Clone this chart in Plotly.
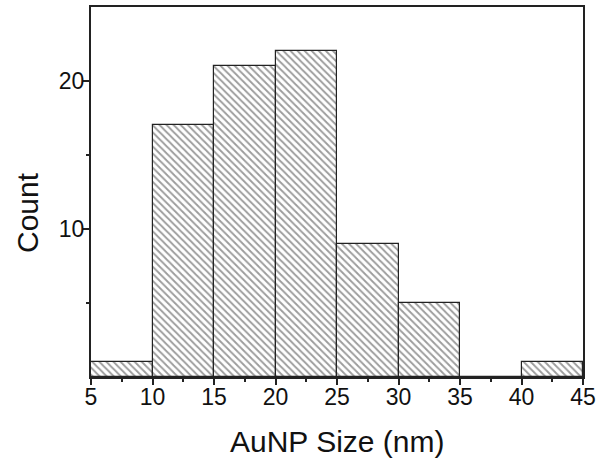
import plotly.graph_objects as go

bin_starts = [5, 10, 15, 20, 25, 30, 35, 40]
bin_width = 5
counts = [1, 17, 21, 22, 9, 5, 0, 1]
x_ticks = [5, 10, 15, 20, 25, 30, 35, 40, 45]
x_minor = [7.5, 12.5, 17.5, 22.5, 27.5, 32.5, 37.5, 42.5]
y_ticks = [10, 20]
y_minor = [5, 15]
x_title = "AuNP Size (nm)"
y_title = "Count"

fig = go.Figure()
fig.add_trace(go.Bar(
    x=bin_starts, y=counts, width=bin_width, offset=0,
    marker=dict(color="white",
                line=dict(color="#222", width=1.2),
                pattern=dict(shape="\\", fgcolor="#3a3a3a", bgcolor="white",
                             size=5, solidity=0.38)),
))

font = "Liberation Sans, Arial, sans-serif"
L, R, T, B = 91, 23, 7, 85
W, H = 606, 462
pw, ph = W - L - R, H - T - B
fig.update_layout(
    width=W, height=H,
    margin=dict(l=L, r=R, t=T, b=B),
    paper_bgcolor="white", plot_bgcolor="white",
    showlegend=False, bargap=0,
    font=dict(family=font, color="#111"),
)
fig.update_xaxes(
    range=[5, 45], tickvals=x_ticks, ticks="outside", ticklen=6, tickwidth=1.5,
    tickcolor="#222", tickfont=dict(size=23), automargin=False,
    ticklabelstandoff=-8,
    minor=dict(tickvals=x_minor, ticks="outside", ticklen=3, tickwidth=1.5,
               tickcolor="#222"),
    showline=True, linecolor="#222", linewidth=2, mirror=True, showgrid=False,
    zeroline=False,
)
fig.update_yaxes(
    range=[0, 25], tickvals=y_ticks, ticks="outside", ticklen=6, tickwidth=1.5,
    tickcolor="#222", tickfont=dict(size=23), automargin=False,
    ticklabelstandoff=-6,
    minor=dict(tickvals=y_minor, ticks="outside", ticklen=3, tickwidth=1.5,
               tickcolor="#222"),
    showline=True, linecolor="#222", linewidth=2, mirror=True, showgrid=False,
    zeroline=False,
)
fig.add_annotation(text=x_title, xref="paper", yref="paper",
                   x=(337 - L) / pw, y=(T + ph - 441) / ph,
                   xanchor="center", yanchor="middle", showarrow=False,
                   font=dict(size=30, family=font, color="#111"))
fig.add_annotation(text=y_title, xref="paper", yref="paper",
                   x=(27 - L) / pw, y=(T + ph - 213) / ph, textangle=-90,
                   xanchor="center", yanchor="middle", showarrow=False,
                   font=dict(size=30, family=font, color="#111"))
fig.write_html("out.html", config={"displayModeBar": False},
               post_script="document.body.style.margin='0';document.body.style.overflow='hidden';")
